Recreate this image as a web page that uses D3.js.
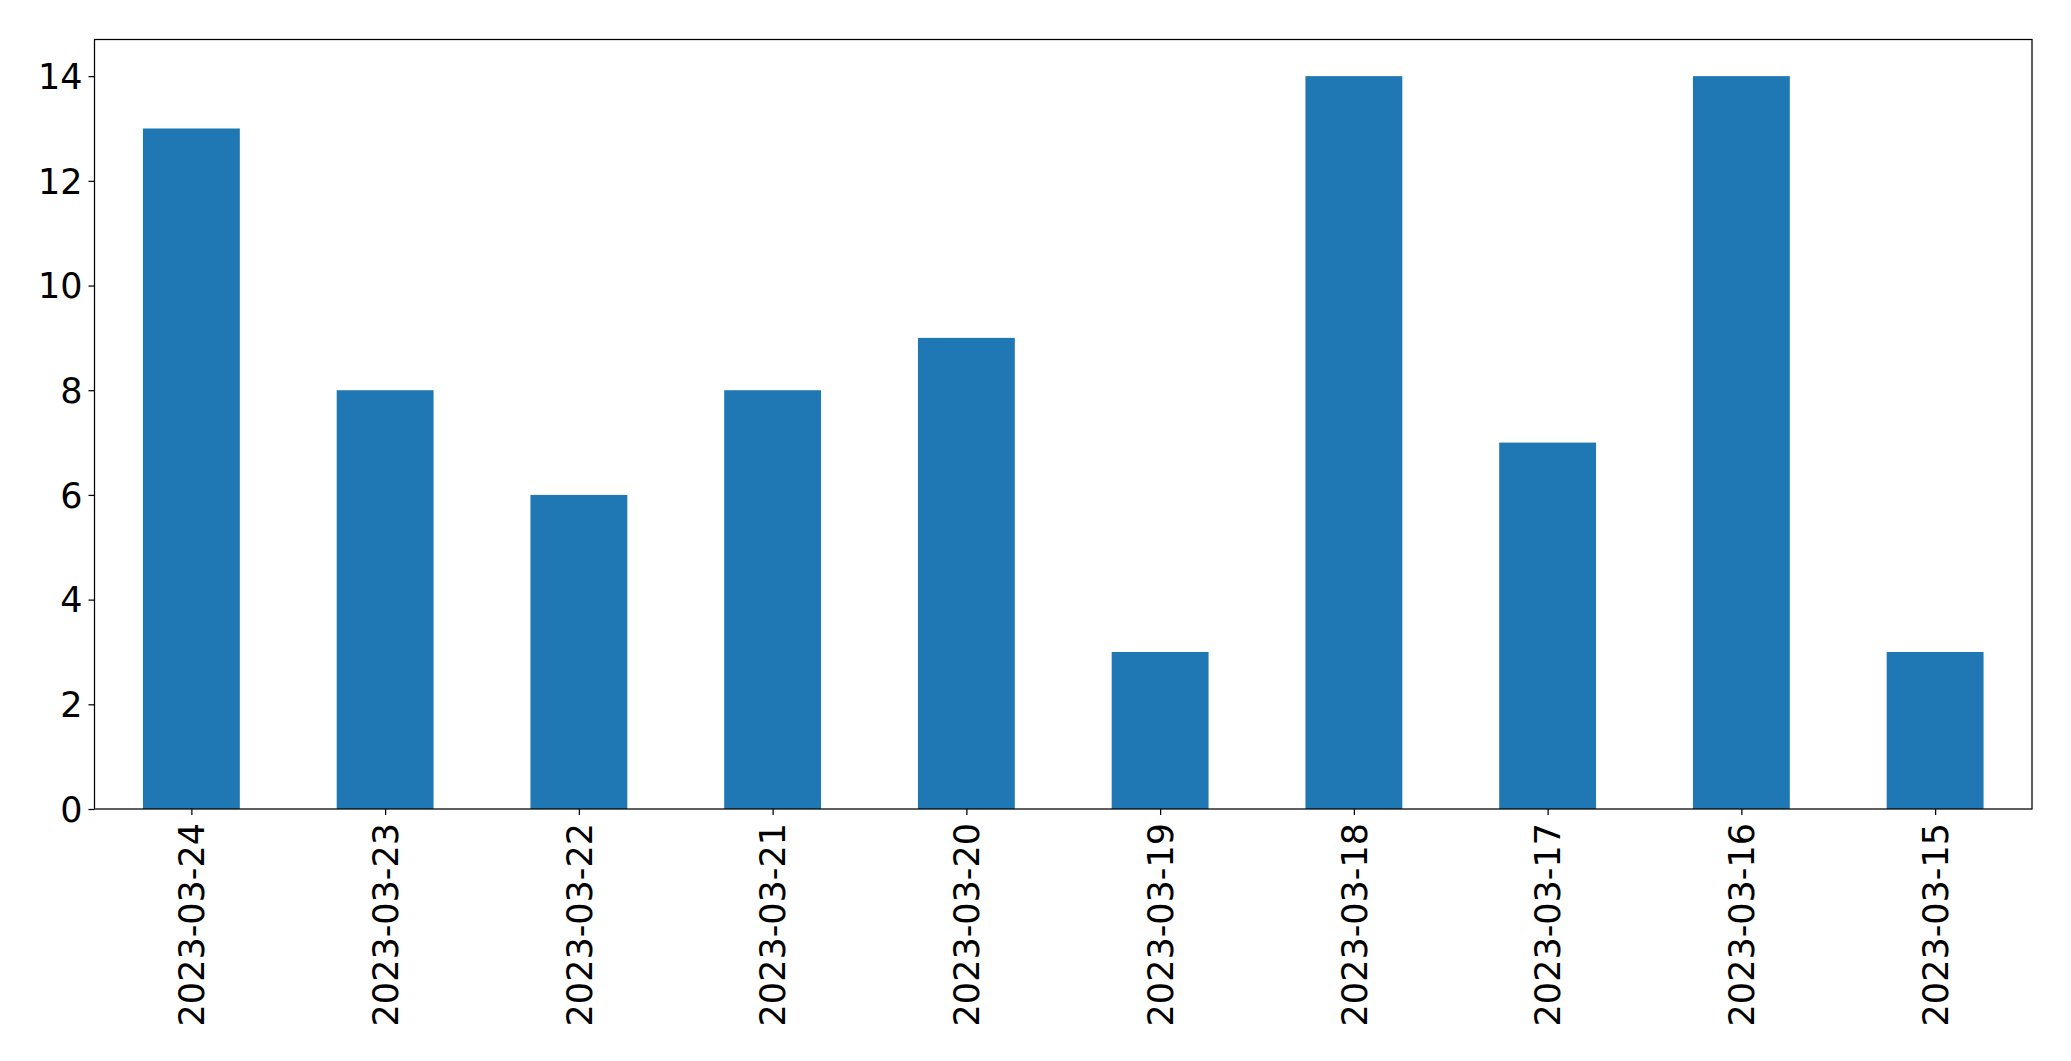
<!DOCTYPE html>
<html><head><meta charset="utf-8">
<script src="https://cdn.jsdelivr.net/npm/d3@7"></script>
<style>body{margin:0;background:#fff}svg{display:block}</style>
</head><body>
<script>
const categories = ["2023-03-24","2023-03-23","2023-03-22","2023-03-21","2023-03-20","2023-03-19","2023-03-18","2023-03-17","2023-03-16","2023-03-15"];
const values = [13, 8, 6, 8, 9, 3, 14, 7, 14, 3];
const yTicks = [0, 2, 4, 6, 8, 10, 12, 14];

const W = 2071, H = 1061;
const m = {left: 94.5, right: 2032, top: 39.5, bottom: 809};
const svg = d3.select("body").append("svg").attr("width", W).attr("height", H);

const x = d3.scaleLinear().domain([-0.5, categories.length - 0.5]).range([m.left, m.right]);
const y = d3.scaleLinear().domain([0, 14.7]).range([m.bottom, m.top]);
const bw = x(0.25) - x(-0.25);

svg.append("g").selectAll("rect").data(values).join("rect")
  .attr("x", (d, i) => x(i - 0.25))
  .attr("y", d => y(d))
  .attr("width", bw)
  .attr("height", d => y(0) - y(d))
  .attr("fill", "#1f77b4");

const font = "DejaVu Sans, sans-serif";
const yAxis = svg.append("g").attr("transform", `translate(${m.left},0)`)
  .call(d3.axisLeft(y).tickValues(yTicks).tickSize(6).tickPadding(6).tickFormat(d3.format("d")));
yAxis.select(".domain").remove();
yAxis.selectAll("line").attr("stroke", "#000").attr("stroke-width", 1.25);
yAxis.selectAll("text").attr("font-family", font).attr("font-size", 35).attr("fill", "#000").attr("dy", "0.35em");

const xAxis = svg.append("g").attr("transform", `translate(0,${m.bottom})`)
  .call(d3.axisBottom(x).tickValues(d3.range(categories.length)).tickSize(6).tickFormat(i => categories[i]));
xAxis.select(".domain").remove();
xAxis.selectAll("line").attr("stroke", "#000").attr("stroke-width", 1.25);
xAxis.selectAll("text")
  .attr("font-family", font).attr("font-size", 35).attr("fill", "#000")
  .attr("text-anchor", "end")
  .attr("transform", "rotate(-90)")
  .attr("x", -14).attr("y", 0).attr("dy", "0.35em");

svg.append("rect")
  .attr("x", m.left).attr("y", m.top)
  .attr("width", m.right - m.left).attr("height", m.bottom - m.top)
  .attr("fill", "none").attr("stroke", "#000").attr("stroke-width", 1.25);
</script>
</body></html>
